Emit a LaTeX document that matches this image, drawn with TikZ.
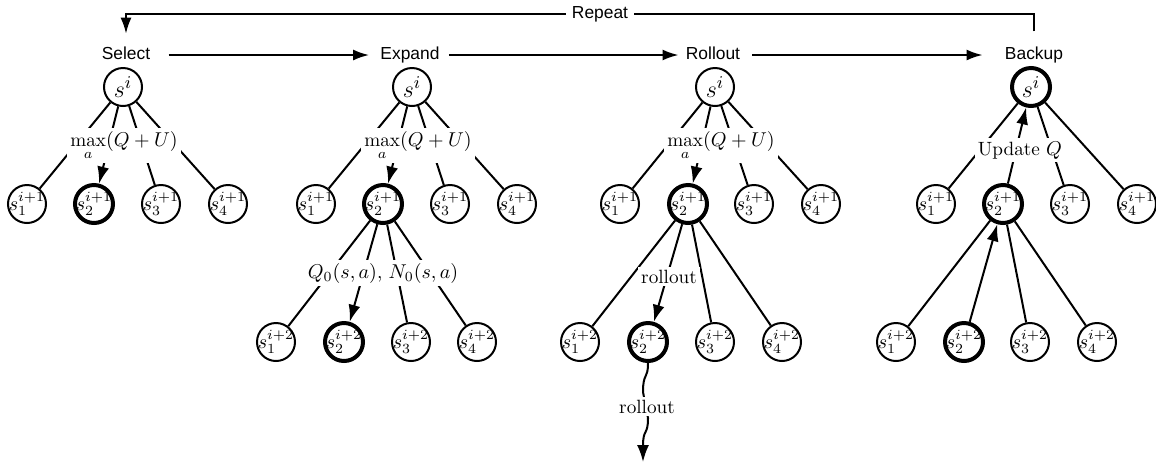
\documentclass[tikz,border=0pt]{standalone}
\usepackage{fontspec}
\newfontfamily\hdr{Liberation Sans}
\usetikzlibrary{arrows.meta}
\newcommand\zw[1]{\makebox[0pt]{#1}}
\begin{document}
\begin{tikzpicture}[x=0.5pt,y=-0.5pt,
  st/.style={circle,draw,line width=1pt,minimum size=19pt,inner sep=0pt,font=\fontsize{10}{12}\selectfont},
  sel/.style={st,line width=2pt},
  rt/.style={font=\fontsize{12.5}{14}\selectfont},
  ln/.style={line width=1pt},
  arr/.style={line width=1pt,-{Latex[length=8.5pt,width=6pt]}},
  harr/.style={line width=1pt,-{Latex[length=8pt,width=5.5pt]}},
  lab/.style={fill=white,inner sep=1.5pt,font=\fontsize{9.6}{11}\selectfont,anchor=base},
  hd/.style={font=\hdr\fontsize{8.7}{10}\selectfont,inner sep=0pt,text height=6.5pt,text depth=1.8pt}]
\useasboundingbox (0,0) rectangle (1156,462);
% headers
\node[hd] (hS) at (126,55) {Select};
\node[hd] (hE) at (410,55) {Expand};
\node[hd] (hR) at (713,55) {Rollout};
\node[hd] (hB) at (1034,55) {Backup};
\coordinate (repc) at (600,14);
\draw[harr,shorten <=7.5pt,shorten >=6.3pt] (hB.north) |- (repc) -| (hS.north);
\node[hd,fill=white,inner xsep=3pt] (rep) at (repc) {Repeat};
\draw[harr,shorten <=9pt,shorten >=5.5pt] (hS) -- (hE);
\draw[harr,shorten <=4.5pt,shorten >=3.5pt] (hE) -- (hR);
\draw[harr,shorten <=6pt,shorten >=11pt] (hR) -- (hB);
% Select
\node[st,rt] (a0) at (123,87) {$s^i$};
\node[st] (a1) at (27,204) {\zw{$s_1^{i+1}$}};
\node[sel] (a2) at (94,204) {\zw{$s_2^{i+1}$}};
\node[st] (a3) at (161,204) {\zw{$s_3^{i+1}$}};
\node[st] (a4) at (228,204) {\zw{$s_4^{i+1}$}};
\draw[ln] (a0) -- (a1) (a0) -- (a3) (a0) -- (a4);
\draw[arr] (a0) -- (a2);
\node[lab] (la) at (124,146) {$\max\limits_a(Q+U)$};
% Expand
\node[st,rt] (b0) at (412,87) {$s^i$};
\node[st] (b1) at (316,204) {\zw{$s_1^{i+1}$}};
\node[sel] (b2) at (383,204) {\zw{$s_2^{i+1}$}};
\node[st] (b3) at (450,204) {\zw{$s_3^{i+1}$}};
\node[st] (b4) at (517,204) {\zw{$s_4^{i+1}$}};
\node[st] (b21) at (276,342) {\zw{$s_1^{i+2}$}};
\node[sel] (b22) at (344,342) {\zw{$s_2^{i+2}$}};
\node[st] (b23) at (411,342) {\zw{$s_3^{i+2}$}};
\node[st] (b24) at (477,342) {\zw{$s_4^{i+2}$}};
\draw[ln] (b0) -- (b1) (b0) -- (b3) (b0) -- (b4);
\draw[arr] (b0) -- (b2);
\draw[ln] (b2) -- (b21) (b2) -- (b23) (b2) -- (b24);
\draw[arr] (b2) -- (b22);
\node[lab] (lb) at (418,146) {$\max\limits_a(Q+U)$};
\node[lab] (lb2) at (383,278) {$Q_0(s,a)$, $N_0(s,a)$};
% Rollout
\node[st,rt] (c0) at (715,87) {$s^i$};
\node[st] (c1) at (620,204) {\zw{$s_1^{i+1}$}};
\node[sel] (c2) at (688,204) {\zw{$s_2^{i+1}$}};
\node[st] (c3) at (754,204) {\zw{$s_3^{i+1}$}};
\node[st] (c4) at (821,204) {\zw{$s_4^{i+1}$}};
\node[st] (c21) at (580,342) {\zw{$s_1^{i+2}$}};
\node[sel] (c22) at (648,342) {\zw{$s_2^{i+2}$}};
\node[st] (c23) at (715,342) {\zw{$s_3^{i+2}$}};
\node[st] (c24) at (782,342) {\zw{$s_4^{i+2}$}};
\coordinate (sqend) at (643,462);
\draw[ln] (c0) -- (c1) (c0) -- (c3) (c0) -- (c4);
\draw[arr] (c0) -- (c2);
\draw[ln] (c2) -- (c21) (c2) -- (c23) (c2) -- (c24);
\draw[arr] (c2) -- (c22);
\draw[arr] (c22.south) .. controls (648,380) and (643,372) .. (643,392) -- (648,418) .. controls (648,436) and (643,428) .. (643,446) -- (sqend);
\node[lab] (lc) at (721,146) {$\max\limits_a(Q+U)$};
\node[lab] (lc2) at (669,283) {rollout};
\node[lab] (lc3) at (647,413) {rollout};
% Backup
\node[sel,rt] (d0) at (1031,87) {$s^i$};
\node[st] (d1) at (936,204) {\zw{$s_1^{i+1}$}};
\node[sel] (d2) at (1003,204) {\zw{$s_2^{i+1}$}};
\node[st] (d3) at (1070,204) {\zw{$s_3^{i+1}$}};
\node[st] (d4) at (1137,204) {\zw{$s_4^{i+1}$}};
\node[st] (d21) at (896,342) {\zw{$s_1^{i+2}$}};
\node[sel] (d22) at (964,342) {\zw{$s_2^{i+2}$}};
\node[st] (d23) at (1030,342) {\zw{$s_3^{i+2}$}};
\node[st] (d24) at (1097,342) {\zw{$s_4^{i+2}$}};
\draw[ln] (d0) -- (d1) (d0) -- (d3) (d0) -- (d4);
\draw[arr] (d2) -- (d0);
\draw[ln] (d2) -- (d21) (d2) -- (d23) (d2) -- (d24);
\draw[arr] (d22) -- (d2);
\node[lab] (ld) at (1020,155) {Update $Q$};
\end{tikzpicture}
\end{document}
